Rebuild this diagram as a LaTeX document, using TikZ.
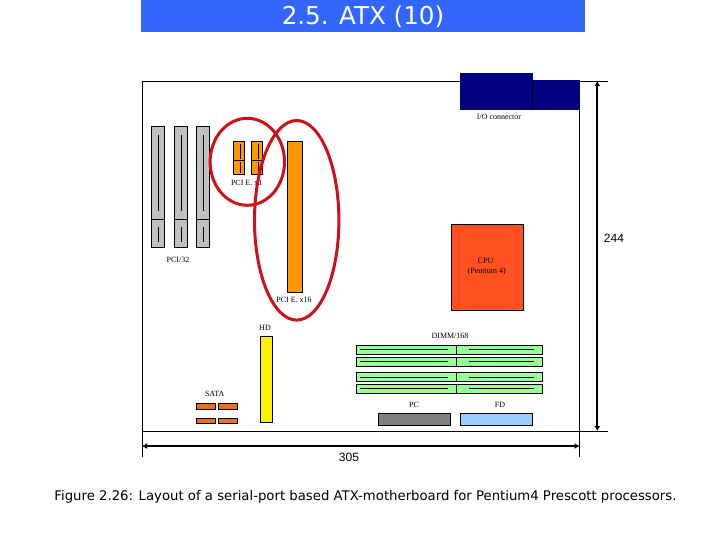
\documentclass[tikz,border=0pt]{standalone}
\usepackage{fontspec}
\setmainfont{Liberation Serif}
\newfontfamily\versa{DejaVu Sans}
\newfontfamily\arialf{Liberation Sans}
\usetikzlibrary{arrows.meta}
\definecolor{hdrblue}{HTML}{3366FF}
\definecolor{slotgrey}{HTML}{C0C0C0}
\definecolor{pcieor}{HTML}{FF9900}
\definecolor{dimmgreen}{HTML}{99FF99}
\definecolor{ioblue}{HTML}{000080}
\definecolor{cpuor}{HTML}{FF5020}
\definecolor{sataor}{HTML}{E8701E}
\definecolor{fdblue}{HTML}{99CCFF}
\definecolor{ringred}{HTML}{CC1119}
\tikzset{
  x=1pt,y=-1pt,
  part/.style={draw=black,line width=0.75pt},
  guide/.style={draw=black,line width=0.8pt},
  thin line/.style={draw=black,line width=0.7pt},
  ring/.style={draw=ringred,line width=3pt},
  dim/.style={draw=black,line width=2pt,{Latex[length=5pt,width=6pt]}-{Latex[length=5pt,width=6pt]}},
  small/.style={font=\fontsize{8}{9}\selectfont,inner sep=0pt},
  dimtext/.style={font=\arialf\fontsize{12}{14}\selectfont,inner sep=0pt},
}
\begin{document}
\begin{tikzpicture}
\useasboundingbox (0,0) rectangle (720,540);
\fill[white] (0,0) rectangle (720,540);
\fill[hdrblue] (141,0) rectangle (585,32);
\node[font=\versa\fontsize{24.6}{28}\selectfont,text=white,inner sep=0pt] (title) at (363,16.5) {2.5. ATX (10)};

% board outline
\coordinate (tl) at (142,81); \coordinate (tr) at (608,81);
\coordinate (bl) at (142,431); \coordinate (br) at (608,431);
\coordinate (lb) at (142,457); \coordinate (rt) at (579.5,109); \coordinate (rb) at (579.5,457);
\draw[guide] (tr) -- (tl) -- (lb);
\draw[guide] (bl) -- (br);
\draw[guide] (rt) -- (rb);

% I/O
\fill[ioblue] (460,73) rectangle (532.7,109.7);
\fill[ioblue] (532.7,80.3) rectangle (579.5,109.7);
\draw[black,line width=0.5pt] (532.7,80.3) -- (532.7,109.7);
\node[small] (io) at (499,117) {I/O connector};

% PCI slots
\foreach \x in {151.3,174.3,196.3}{
  \draw[part,fill=slotgrey] (\x,126.3) rectangle ++(13.4,121);
  \draw[thin line] (\x,219.3) -- ++(13.4,0);
  \draw[thin line] (\x+6.7,135) -- ++(0,76);
  \draw[thin line] (\x+6.7,226.7) -- ++(0,15);
}
\node[small] (pci) at (178,260) {PCI/32};

% PCIe x1
\foreach \x in {233.3,251.3}{
  \draw[part,fill=pcieor] (\x,141.3) rectangle ++(11.4,33.4);
  \draw[thin line] (\x,160.3) -- ++(11.4,0);
  \draw[thin line] (\x+7,144) -- ++(0,15);
  \draw[thin line] (\x+7,162) -- ++(0,11);
}
\node[small] (x1) at (246.7,183) {PCI E. x1};

% PCIe x16
\draw[part,fill=pcieor] (287.3,141.3) rectangle (302.7,292.3);
\node[small] (x16) at (294,300) {PCI E. x16};

% rings
\draw[ring] (247.3,161.8) ellipse [x radius=37.2,y radius=43.5];
\draw[ring] (296.7,220.3) ellipse [x radius=42.2,y radius=99.8];

% CPU
\draw[part,fill=cpuor] (451.3,224.3) rectangle (523.7,310);
\node[small] (cpu) at (485.7,261) {CPU};
\node[small] (pent) at (486.7,272) {(Pentium 4)};

% HD
\draw[part,fill=yellow] (260.3,336.3) rectangle (272.7,422.7);
\node[small] (hd) at (265,328) {HD};

% SATA
\foreach \x in {196.3,218.3}{
  \draw[part,fill=sataor] (\x,403.3) rectangle ++(19.4,6.4);
  \draw[part,fill=sataor] (\x,418.3) rectangle ++(19.4,5.4);
}
\node[small] (sata) at (214.7,394) {SATA};

% DIMMs
\foreach \y in {345.3,357.3,372.7,384.3}{
  \draw[part,fill=dimmgreen] (356.3,\y) rectangle ++(186,9);
  \draw[thin line] (456.3,\y) -- ++(0,9);
  \draw[thin line] (360,\y+4.5) -- (448.3,\y+4.5);
  \draw[thin line] (469,\y+4.5) -- (534,\y+4.5);
}
\node[small] (dimm) at (450,336) {DIMM/168};

% PC / FD
\draw[part,fill=gray] (378.3,413.3) rectangle (450.3,425.3);
\draw[part,fill=fdblue] (460.3,413.3) rectangle (532.3,425.3);
\node[small] (pc) at (414,405) {PC};
\node[small] (fd) at (500,405) {FD};

% dimensions
\coordinate (da) at (597.3,81); \coordinate (db) at (597.3,431);
\coordinate (dc) at (142,446); \coordinate (dd) at (579.5,446);
\draw[dim] (da) -- (db);
\draw[dim] (dc) -- (dd);
\node[dimtext] (h) at (614,238) {244};
\node[dimtext] (w) at (349,457) {305};

% caption
\node[font=\versa\fontsize{13.25}{16}\selectfont,inner sep=0pt] (cap) at (365.5,497) {Figure 2.26: Layout of a serial-port based ATX-motherboard for Pentium4 Prescott processors.};
\end{tikzpicture}
\end{document}
